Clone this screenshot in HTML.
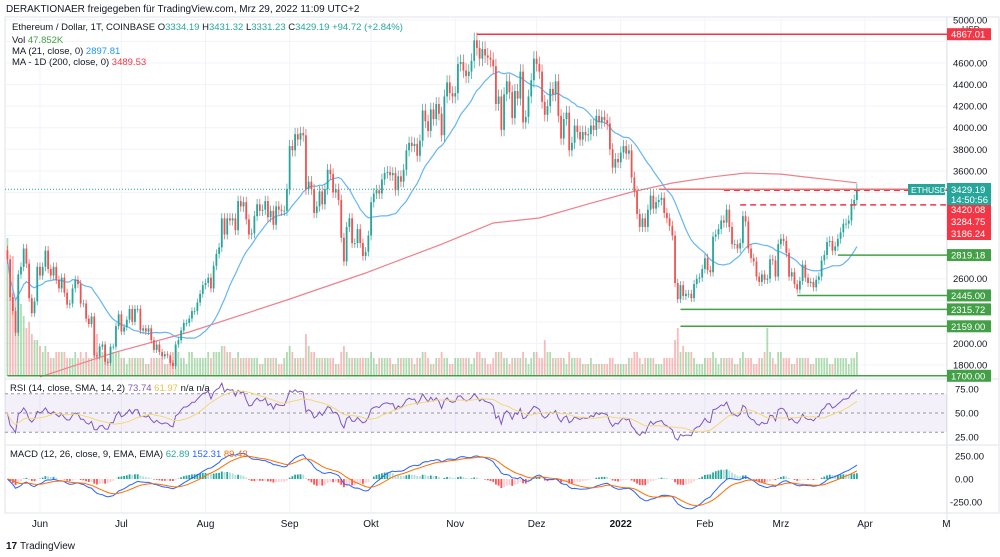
<!DOCTYPE html>
<html><head><meta charset="utf-8"><style>
html,body{margin:0;padding:0;background:#fff;width:1000px;height:557px;overflow:hidden}
svg{display:block;font-family:"Liberation Sans",sans-serif}
</style></head><body>
<svg id="c" width="1000" height="557" viewBox="0 0 1000 557"></svg>
<script>
const closes=[2780,2430,2300,2100,2640,2710,2880,2740,2420,2280,2390,2710,
2630,2710,2860,2690,2630,2710,2590,2510,2610,2470,2360,2370,2510,2590,2550,2370,2370,2230,2180,2250,1890,1880,1970,1990,1830,1820,1970,1970,2160,2270,
2110,2150,2220,2320,2200,2320,2320,2120,2140,2110,2140,2030,1940,1990,1920,1880,1900,1890,1820,1790,1990,2030,2120,2190,2190,2230,2300,2300,2380,2460,2540,
2560,2610,2510,2720,2830,2890,3160,3010,3160,3140,3160,3050,3320,3270,3310,3150,3010,3020,3180,3290,3230,3240,3320,3170,3230,3100,3270,3240,3230,3230,3430,
3830,3790,3940,3890,3950,3930,3430,3500,3430,3210,3270,3410,3290,3430,3610,3570,3400,3430,3330,2980,2760,3080,3160,2930,2930,3060,2930,2810,2850,3000,
3310,3390,3420,3390,3520,3580,3590,3560,3580,3420,3550,3500,3610,3790,3860,3830,3850,3740,3880,4160,4060,3970,4170,4080,4220,4130,3930,4290,4420,4320,4290,
4320,4590,4610,4530,4480,4520,4620,4810,4740,4640,4730,4670,4650,4630,4570,4220,4290,3980,4310,4430,4330,4090,4340,4270,4520,4050,4100,4290,4440,4640,
4590,4520,4240,4120,4200,4360,4310,4430,4110,3900,4080,4140,3790,3860,4020,3960,3890,3960,3930,3940,4020,3980,4110,4050,4100,4070,4040,3800,3630,3710,3680,
3770,3830,3760,3790,3540,3410,3200,3080,3160,3080,3240,3370,3250,3310,3330,3350,3210,3160,3090,3000,2560,2410,2540,2440,2460,2460,2420,2550,2600,2610,2690,
2790,2680,2660,2990,3010,3060,3140,3120,3240,3080,2920,2920,2880,2930,3180,3130,2880,2790,2760,2620,2570,2640,2590,2600,2780,2770,2620,2920,
2970,2950,2840,2620,2660,2550,2500,2580,2730,2610,2560,2570,2520,2590,2620,2770,2820,2940,2950,2860,2900,2970,3030,3110,3110,3140,3290,3330,3429.19];
const volumes=[23,15,20,13,16,12,10,8,9,7,6,6,
5,4,5,4,3,3,4,4,4,4,3,3,3,4,3,4,3,4,3,3,6,7,5,4,4,3,3,4,4,4,
3,3,2,3,3,3,3,3,3,2,2,3,3,3,3,3,2,2,3,4,5,4,3,3,2,4,4,3,3,3,3,
3,4,3,4,4,4,5,5,4,4,3,3,4,3,3,3,3,3,3,3,2,2,3,3,3,3,3,2,2,3,4,
5,4,3,3,3,3,7,5,4,4,3,3,3,3,3,3,3,2,2,4,5,4,3,3,3,3,3,3,3,3,
4,3,2,3,3,3,3,3,2,2,3,3,3,3,3,3,2,3,3,4,4,3,2,2,3,3,4,3,3,2,2,
3,3,3,3,3,3,2,3,4,4,3,3,2,2,3,4,4,4,3,3,2,3,3,3,3,4,3,2,3,4,
4,3,3,6,4,4,3,3,3,3,3,2,4,3,3,3,3,2,2,2,3,2,2,2,2,2,2,3,3,2,2,
2,2,2,3,3,4,4,3,2,3,3,3,3,2,2,2,3,3,3,3,6,8,4,5,4,4,4,3,2,2,2,
3,3,3,4,3,2,3,3,3,3,3,2,2,3,4,3,3,3,2,2,3,3,4,8,4,3,2,4,
4,3,3,3,2,2,3,3,3,3,3,2,2,3,3,3,3,3,2,2,3,3,3,3,3,2,3,3,4];
// 200-day MA (day index -> value)
const ma200Days=[12,40,67,103,132,160,179,196,215,230,245,260,272,285,294,313];
const ma200Vals=[1690,1920,2106,2403,2653,2920,3117,3163,3300,3404,3487,3545,3580,3570,3543,3489.53];
const priceTicks=[5000,4600,4400,4200,4000,3800,3600,2600,2000,1800];
const monthLabels=["Jun","Jul","Aug","Sep","Okt","Nov","Dez","2022","Feb","Mrz","Apr","M"];
const monthDays=[12,42,73,104,134,165,195,226,257,285,316,346];
const levels=[{v:4867.01,from:173,col:"#f23645",dash:false,lab:true},{v:3420.08,from:264,col:"#f23645",dash:true,lab:false},{v:3284.75,from:270,col:"#f23645",dash:true,lab:false},
{v:2819.18,from:306,col:"#43a047",dash:false,lab:true},{v:2445,from:291,col:"#43a047",dash:false,lab:true},{v:2315.72,from:248,col:"#43a047",dash:false,lab:true},{v:2159,from:248,col:"#43a047",dash:false,lab:true},{v:1700,from:0,col:"#43a047",dash:false,lab:true}];

const S=document.getElementById('c'),NS="http://www.w3.org/2000/svg";
function E(t,a,p){const e=document.createElementNS(NS,t);for(const k in a)e.setAttribute(k,a[k]);(p||S).appendChild(e);return e}
const X0=7.4,DX=2.714,PR=947;
const xs=i=>X0+i*DX;
const yP=p=>63+(4600-p)*0.10786;
const yR=v=>413-(v-50)*0.96;
const yM=v=>479-v*0.092;

for(const d of monthDays){const g=E('line',{x1:xs(d),x2:xs(d),y1:18,y2:512,stroke:'#f0f3fa'});}
for(let p=1800;p<=5000;p+=200){const g=E('line',{x1:5,x2:PR,y1:yP(p),y2:yP(p),stroke:'#f0f3fa'});}
E('rect',{x:5,y:17,width:994,height:496,fill:'none',stroke:'#e0e3eb'});
E('line',{x1:PR,x2:PR,y1:17,y2:530,stroke:'#e0e3eb'});
E('line',{x1:5,x2:999,y1:379,y2:379,stroke:'#e0e3eb'});
E('line',{x1:5,x2:999,y1:445,y2:445,stroke:'#e0e3eb'});
E('line',{x1:5,x2:999,y1:513,y2:513,stroke:'#e0e3eb'});

for(let i=0;i<closes.length;i++){const up=i==0||closes[i]>=closes[i-1];const h=volumes[i]*6;
const r=E('rect',{x:xs(i)-0.9,y:376-h,width:1.8,height:h,fill:up?'rgba(76,175,80,0.45)':'rgba(239,83,80,0.4)'});
}

let d="";ma200Days.forEach((dd,k)=>{d+=(k?"L":"M")+xs(dd).toFixed(1)+","+yP(ma200Vals[k]).toFixed(1)});
const m2=E('path',{d,fill:'none',stroke:'#f0808a','stroke-width':1.2});
d="";for(let i=0;i<closes.length;i++){const s=closes.slice(Math.max(0,i-20),i+1);const m=s.reduce((a,b)=>a+b,0)/s.length;d+=(i?"L":"M")+xs(i).toFixed(1)+","+yP(m).toFixed(1)}
const m1=E('path',{d,fill:'none',stroke:'#64b5f6','stroke-width':1.2});

const lp=E('line',{x1:5,x2:PR,y1:yP(3429.19),y2:yP(3429.19),stroke:'#26a69a','stroke-dasharray':'1 2'});

for(let i=0;i<closes.length;i++){const c=closes[i],o=i?closes[i-1]:c*1.03;const up=c>=o;const col=up?'#26a69a':'#ef5350';
const hi=Math.max(o,c)*1.015,lo=Math.min(o,c)*0.985;
const g=E('g',{});
E('line',{x1:xs(i),x2:xs(i),y1:yP(hi),y2:yP(lo),stroke:col,'stroke-width':0.7},g);
const t=Math.min(yP(o),yP(c));E('rect',{x:xs(i)-0.9,y:t,width:1.8,height:Math.max(0.8,Math.abs(yP(o)-yP(c))),fill:col},g);}

for(const L of levels){const ln=E('line',{x1:xs(L.from),x2:PR,y1:yP(L.v),y2:yP(L.v),stroke:L.col,'stroke-width':1.5,'stroke-dasharray':L.dash?'6 4':'none'});
}
const tl=E('line',{x1:xs(240),x2:PR,y1:yP(3429.19),y2:yP(3429.19),stroke:'#e57373','stroke-width':1.5});

for(const p of priceTicks){const t=E('text',{x:953,y:yP(p)+3.5,'font-size':9.5,fill:'#131722'});t.textContent=p.toFixed(2);}
let u=E('text',{x:962,y:32,'font-size':8.5,fill:'#131722'});u.textContent='USD';
function lab(v,col,txt,name){const y=yP(v);E('rect',{x:947,y:y-6,width:44,height:12,fill:col});const t=E('text',{x:951,y:y+3.5,'font-size':9.5,fill:'#fff'});t.textContent=txt;}
for(const L of levels){if(L.lab)lab(L.v,L.col==="#f23645"?'#f23645':'#43a047',L.v.toFixed(2),'level-label');}
E('rect',{x:947,y:203,width:44,height:37,fill:'#f23645'});
[[3420.08,213],[3284.75,225],[3186.24,237]].forEach(a=>{const t=E('text',{x:951,y:a[1],'font-size':9.5,fill:'#fff'});t.textContent=a[0].toFixed(2);});
E('rect',{x:908,y:184,width:37,height:11,fill:'#26a69a'});
let t=E('text',{x:911,y:193,'font-size':8.5,fill:'#fff'});t.textContent='ETHUSD';
E('rect',{x:947,y:183,width:44,height:22,fill:'#26a69a'});
t=E('text',{x:951,y:193,'font-size':9.5,fill:'#fff'});t.textContent='3429.19';
t=E('text',{x:951,y:203,'font-size':9.5,fill:'#fff'});t.textContent='14:50:56';

// RSI
const rsi=[50];let ag=40,al=40;
for(let i=1;i<closes.length;i++){const ch=closes[i]-closes[i-1];const g=Math.max(ch,0),l=Math.max(-ch,0);
ag=(ag*13+g)/14;al=(al*13+l)/14;rsi[i]=al==0?100:100-100/(1+ag/al);}
E('rect',{x:5,y:yR(70),width:PR-5,height:yR(30)-yR(70),fill:'rgba(126,87,194,0.09)'});
[70,50,30].forEach(v=>{const l=E('line',{x1:5,x2:PR,y1:yR(v),y2:yR(v),stroke:'#9598a1','stroke-dasharray':'3 3'});});
d="";rsi.forEach((v,i)=>d+=(i?"L":"M")+xs(i).toFixed(1)+","+yR(v).toFixed(1));
let p=E('path',{d,fill:'none',stroke:'#7e57c2','stroke-width':1});
d="";rsi.forEach((v,i)=>{const s=rsi.slice(Math.max(0,i-13),i+1);d+=(i?"L":"M")+xs(i).toFixed(1)+","+yR(s.reduce((a,b)=>a+b,0)/s.length).toFixed(1)});
p=E('path',{d,fill:'none',stroke:'#f5d77a','stroke-width':1});
[75,50,25].forEach(v=>{const t=E('text',{x:955,y:yR(v)+3.5,'font-size':9.5,fill:'#131722'});t.textContent=v.toFixed(2);});

// MACD
function ema(a,n){const k=2/(n+1);const r=[a[0]];for(let i=1;i<a.length;i++)r[i]=a[i]*k+r[i-1]*(1-k);return r}
const e12=ema(closes,12),e26=ema(closes,26);const macd=closes.map((c,i)=>e12[i]-e26[i]);const sig=ema(macd,9);
for(let i=0;i<macd.length;i++){const h=macd[i]-sig[i],hp=i?macd[i-1]-sig[i-1]:h;
const col=h>=0?(h>=hp?'#26a69a':'#b2dfdb'):(h<hp?'#ff5252':'#ffcdd2');
const r=E('rect',{x:xs(i)-0.9,y:Math.min(yM(0),yM(h)),width:1.8,height:Math.abs(yM(h)-yM(0)),fill:col});}
d="";macd.forEach((v,i)=>d+=(i?"L":"M")+xs(i).toFixed(1)+","+yM(v).toFixed(1));
p=E('path',{d,fill:'none',stroke:'#2962ff','stroke-width':1});
d="";sig.forEach((v,i)=>d+=(i?"L":"M")+xs(i).toFixed(1)+","+yM(v).toFixed(1));
p=E('path',{d,fill:'none',stroke:'#ff6d00','stroke-width':1});
[250,0,-250].forEach(v=>{const t=E('text',{x:v<0?950:955,y:yM(v)+3.5,'font-size':9.5,fill:'#131722'});t.textContent=v.toFixed(2);});

monthLabels.forEach((m,k)=>{const t=E('text',{x:xs(monthDays[k]),y:527,'font-size':10,fill:'#131722','text-anchor':'middle','font-weight':m=='2022'?'bold':'normal'});t.textContent=m;});

function txt(x,y,s,parts,name){const t=E('text',{x,y,'font-size':s,fill:'#131722'});parts.forEach(q=>{const sp=E('tspan',{fill:q[1]},t);sp.textContent=q[0]});}
txt(6,12,10,[["DERAKTIONAER freigegeben für TradingView.com, Mrz 29, 2022 11:09 UTC+2","#131722"]],'publish-info');
txt(12,30,9.5,[["Ethereum / Dollar, 1T, COINBASE  ","#131722"],["O","#131722"],["3334.19  ","#26a69a"],["H","#131722"],["3431.32  ","#26a69a"],["L","#131722"],["3331.23  ","#26a69a"],["C","#131722"],["3429.19  +94.72 (+2.84%)","#26a69a"]],'ohlc-legend');
txt(12,43,9.5,[["Vol  ","#131722"],["47.852K","#43a047"]],'volume-legend');
txt(12,54,9.5,[["MA (21, close, 0)  ","#131722"],["2897.81","#2196f3"]],'ma21-legend');
txt(12,65,9.5,[["MA - 1D (200, close, 0)  ","#131722"],["3489.53","#f23645"]],'ma200-legend');
txt(10,391,9.5,[["RSI (14, close, SMA, 14, 2)  ","#131722"],["73.74  ","#7e57c2"],["61.97","#e6c14a"],["  n/a  n/a","#131722"]],'rsi-legend');
txt(10,457,9.5,[["MACD (12, 26, close, 9, EMA, EMA)  ","#131722"],["62.89  ","#26a69a"],["152.31  ","#2962ff"],["89.42","#ff6d00"]],'macd-legend');
txt(20,549,10,[["TradingView","#131722"]],'tradingview-logo');
E('text',{x:6,y:549,'font-size':10,'font-weight':'bold',fill:'#131722'}).textContent='17';
</script>
</body></html>
